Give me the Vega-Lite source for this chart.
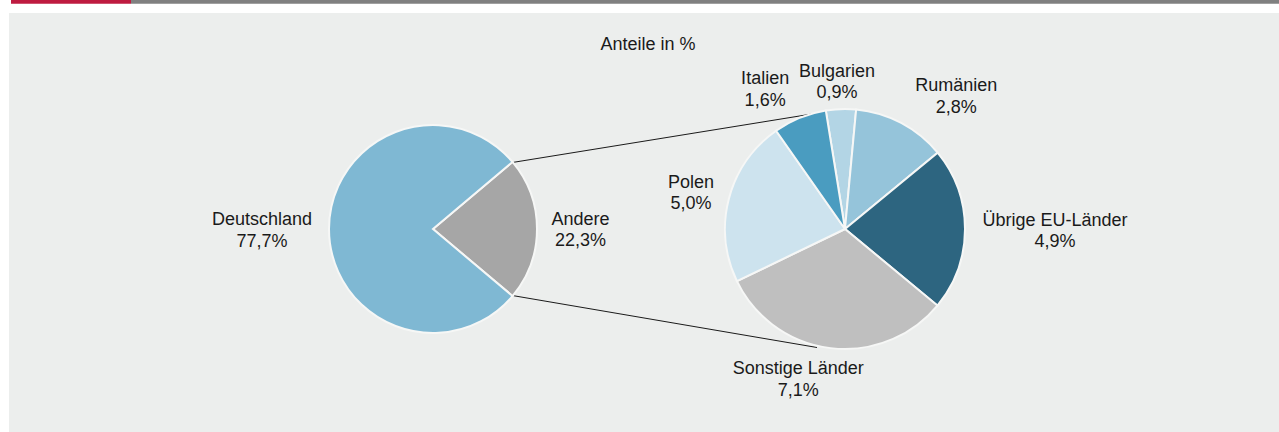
{
  "$schema": "https://vega.github.io/schema/vega-lite/v6.json",
  "width": 1270,
  "height": 419,
  "padding": {"left": 9, "top": 13, "right": 0, "bottom": 0},
  "autosize": {"type": "none"},
  "background": "#ffffff",
  "config": {
    "view": {"fill": "#eceeed", "stroke": null},
    "font": "Liberation Sans",
    "text": {"font": "Liberation Sans"}
  },
  "datasets": {
    "gesamt": [
      {"Kreis": "Gesamt", "Land": "Andere", "Anteil": 22.3, "Reihenfolge": 1},
      {"Kreis": "Gesamt", "Land": "Deutschland", "Anteil": 77.7, "Reihenfolge": 2}
    ],
    "andere": [
      {"Kreis": "Andere", "Land": "Bulgarien", "Anteil": 0.9, "Reihenfolge": 1},
      {"Kreis": "Andere", "Land": "Rumänien", "Anteil": 2.8, "Reihenfolge": 2},
      {"Kreis": "Andere", "Land": "Übrige EU-Länder", "Anteil": 4.9, "Reihenfolge": 3},
      {"Kreis": "Andere", "Land": "Sonstige Länder", "Anteil": 7.1, "Reihenfolge": 4},
      {"Kreis": "Andere", "Land": "Polen", "Anteil": 5.0, "Reihenfolge": 5},
      {"Kreis": "Andere", "Land": "Italien", "Anteil": 1.6, "Reihenfolge": 6}
    ]
  },
  "layer": [
    {
      "data": {"values": [{}]},
      "mark": {"type": "rect", "color": "#be1b40", "clip": false},
      "encoding": {
        "x": {"datum": 2, "type": "quantitative", "scale": {"domain": [0, 1270], "range": [0, 1270]}, "axis": null},
        "x2": {"datum": 122},
        "y": {"datum": -13, "type": "quantitative", "scale": {"domain": [0, 419], "range": [0, 419]}, "axis": null},
        "y2": {"datum": -9.3}
      }
    },
    {
      "data": {"values": [{}]},
      "mark": {"type": "rect", "color": "#808080", "clip": false},
      "encoding": {
        "x": {"datum": 122, "type": "quantitative", "scale": {"domain": [0, 1270], "range": [0, 1270]}, "axis": null},
        "x2": {"datum": 1270},
        "y": {"datum": -13, "type": "quantitative", "scale": {"domain": [0, 419], "range": [0, 419]}, "axis": null},
        "y2": {"datum": -9.3}
      }
    },
    {
      "data": {"values": [{"Titel": "Anteile in %"}]},
      "mark": {"type": "text", "fontSize": 18, "align": "center", "baseline": "middle", "color": "#1a1a1a"},
      "encoding": {
        "x": {"datum": 639, "type": "quantitative", "scale": {"domain": [0, 1270], "range": [0, 1270]}, "axis": null},
        "y": {"datum": 32, "type": "quantitative", "scale": {"domain": [0, 419], "range": [0, 419]}, "axis": null},
        "text": {"field": "Titel"}
      }
    },
    {
      "data": {"values": [{}]},
      "mark": {"type": "rule", "color": "#1a1a1a", "strokeWidth": 1},
      "encoding": {
        "x": {"datum": 502.7, "type": "quantitative", "scale": {"domain": [0, 1270], "range": [0, 1270]}, "axis": null},
        "x2": {"datum": 816.5},
        "y": {"datum": 149.6, "type": "quantitative", "scale": {"domain": [0, 419], "range": [0, 419]}, "axis": null},
        "y2": {"datum": 98.8}
      }
    },
    {
      "data": {"values": [{}]},
      "mark": {"type": "rule", "color": "#1a1a1a", "strokeWidth": 1},
      "encoding": {
        "x": {"datum": 502.7, "type": "quantitative", "scale": {"domain": [0, 1270], "range": [0, 1270]}, "axis": null},
        "x2": {"datum": 808},
        "y": {"datum": 282.4, "type": "quantitative", "scale": {"domain": [0, 419], "range": [0, 419]}, "axis": null},
        "y2": {"datum": 334.5}
      }
    },
    {
      "data": {"name": "gesamt"},
      "transform": [
        {"calculate": "[datum.Land, replace(format(datum.Anteil, '.1f'), '.', ',') + '%']", "as": "Beschriftung"}
      ],
      "encoding": {
        "x": {"datum": 424, "type": "quantitative", "scale": {"domain": [0, 1270], "range": [0, 1270]}, "axis": null},
        "y": {"datum": 216, "type": "quantitative", "scale": {"domain": [0, 419], "range": [0, 419]}, "axis": null},
        "theta": {"field": "Anteil", "type": "quantitative", "stack": true, "scale": {"range": [0.8702, 7.1534]}},
        "order": {"field": "Reihenfolge", "type": "quantitative"}
      },
      "layer": [
        {
          "mark": {"type": "arc", "outerRadius": 104, "stroke": "#f6f7f6", "strokeWidth": 2},
          "encoding": {
            "color": {
              "field": "Land",
              "type": "nominal",
              "scale": {"domain": ["Andere", "Deutschland"], "range": ["#a6a6a6", "#7fb8d3"]},
              "legend": null
            }
          }
        },
        {
          "mark": {
            "type": "text",
            "fontSize": 18,
            "lineHeight": 21.5,
            "align": "center",
            "baseline": "middle",
            "color": "#1a1a1a",
            "radius": {"expr": "datum.Land == 'Deutschland' ? 172 : 147.5"},
            "dx": {"expr": "datum.Land == 'Deutschland' ? 1 : 0"},
            "dy": -9
          },
          "encoding": {"text": {"field": "Beschriftung"}}
        }
      ]
    },
    {
      "data": {"name": "andere"},
      "transform": [
        {"calculate": "[datum.Land, replace(format(datum.Anteil, '.1f'), '.', ',') + '%']", "as": "Beschriftung"}
      ],
      "encoding": {
        "x": {"datum": 836, "type": "quantitative", "scale": {"domain": [0, 1270], "range": [0, 1270]}, "axis": null},
        "y": {"datum": 216, "type": "quantitative", "scale": {"domain": [0, 419], "range": [0, 419]}, "axis": null},
        "theta": {"field": "Anteil", "type": "quantitative", "stack": true, "scale": {"range": [-0.1606, 6.1226]}},
        "order": {"field": "Reihenfolge", "type": "quantitative"}
      },
      "layer": [
        {
          "mark": {"type": "arc", "outerRadius": 120, "stroke": "#f6f7f6", "strokeWidth": 2},
          "encoding": {
            "color": {
              "field": "Land",
              "type": "nominal",
              "scale": {
                "domain": ["Bulgarien", "Rumänien", "Übrige EU-Länder", "Sonstige Länder", "Polen", "Italien"],
                "range": ["#b3d5e5", "#95c4da", "#2d6580", "#bfbfbf", "#cde3ee", "#4a9cc0"]
              },
              "legend": null
            }
          }
        },
        {
          "mark": {
            "type": "text",
            "fontSize": 18,
            "lineHeight": 21.5,
            "align": "center",
            "baseline": "middle",
            "color": "#1a1a1a",
            "radius": {"expr": "datum.Land == 'Bulgarien' ? 147 : datum.Land == 'Rumänien' ? 169 : datum.Land == 'Übrige EU-Länder' ? 210 : datum.Land == 'Sonstige Länder' ? 155 : datum.Land == 'Polen' ? 158 : 159"},
            "dx": {"expr": "datum.Land == 'Rumänien' ? 32 : datum.Land == 'Sonstige Länder' ? -28 : datum.Land == 'Italien' ? -20 : datum.Land == 'Bulgarien' ? -3 : datum.Land == 'Polen' ? -1 : 0"},
            "dy": {"expr": "datum.Land == 'Rumänien' ? 6.5 : datum.Land == 'Sonstige Länder' ? -13.5 : datum.Land == 'Italien' ? -2.5 : datum.Land == 'Polen' ? -6.5 : datum.Land == 'Übrige EU-Länder' ? -8.5 : -10.5"}
          },
          "encoding": {"text": {"field": "Beschriftung"}}
        }
      ]
    }
  ],
  "resolve": {"scale": {"theta": "independent", "color": "independent"}}
}
